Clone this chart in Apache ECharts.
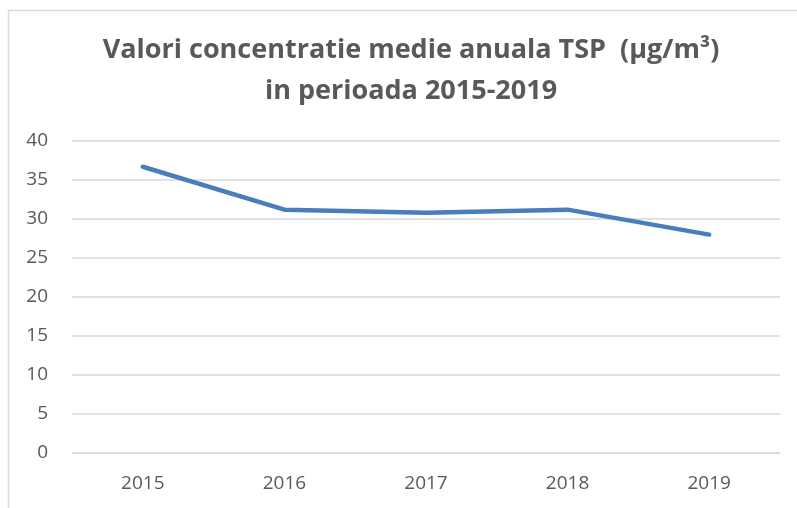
<!DOCTYPE html>
<html>
<head>
<meta charset="utf-8">
<script src="https://cdn.jsdelivr.net/npm/echarts@6/dist/echarts.min.js"></script>
<style>
  html, body { margin: 0; padding: 0; background: #fff; }
  #chart { width: 797px; height: 508px; }
</style>
</head>
<body>
<div id="chart"></div>
<script>
const years = ['2015', '2016', '2017', '2018', '2019']
const tspValues = [36.7, 31.2, 30.8, 31.2, 28.0]
const titleLines = ['Valori concentratie medie anuala TSP  (µg/m³)', 'in perioada 2015-2019']

const chart = echarts.init(document.getElementById('chart'))
const options = {
  backgroundColor: '#fff',
  textStyle: { fontFamily: '"Open Sans", sans-serif' },
  graphic: [
    {
      // chart frame (cut off at right and bottom)
      type: 'rect',
      shape: { x: 8.5, y: 10.5, width: 820, height: 540 },
      style: { fill: 'none', stroke: '#d9d9d9', lineWidth: 1.5 },
      silent: true,
    },
  ],
  title: {
    text: titleLines.join('\n'),
    left: 406,
    textAlign: 'center',
    top: 25,
    textStyle: {
      color: '#595959',
      fontSize: 27,
      fontWeight: 'bold',
      lineHeight: 41,
      fontFamily: '"Open Sans", sans-serif',
    },
  },
  grid: {
    left: 72,
    right: 17,
    top: 141,
    bottom: 55,
  },
  xAxis: {
    type: 'category',
    data: years,
    boundaryGap: true,
    axisLine: { show: true, lineStyle: { color: '#d9d9d9', width: 1.5 } },
    axisTick: { show: false },
    axisLabel: { color: '#595959', fontSize: 19, margin: 21 },
  },
  yAxis: {
    type: 'value',
    min: 0,
    max: 40,
    interval: 5,
    axisLine: { show: false },
    axisTick: { show: false },
    axisLabel: { color: '#595959', fontSize: 19, margin: 24 },
    splitLine: { lineStyle: { color: '#d9d9d9', width: 1.5 } },
  },
  series: [
    {
      name: 'TSP',
      type: 'line',
      data: tspValues,
      symbol: 'none',
      lineStyle: { color: '#4a7ebb', width: 4.5, cap: 'round', join: 'round' },
      itemStyle: { color: '#4a7ebb' },
    },
  ],
}
chart.setOption(options)
</script>
</body>
</html>
